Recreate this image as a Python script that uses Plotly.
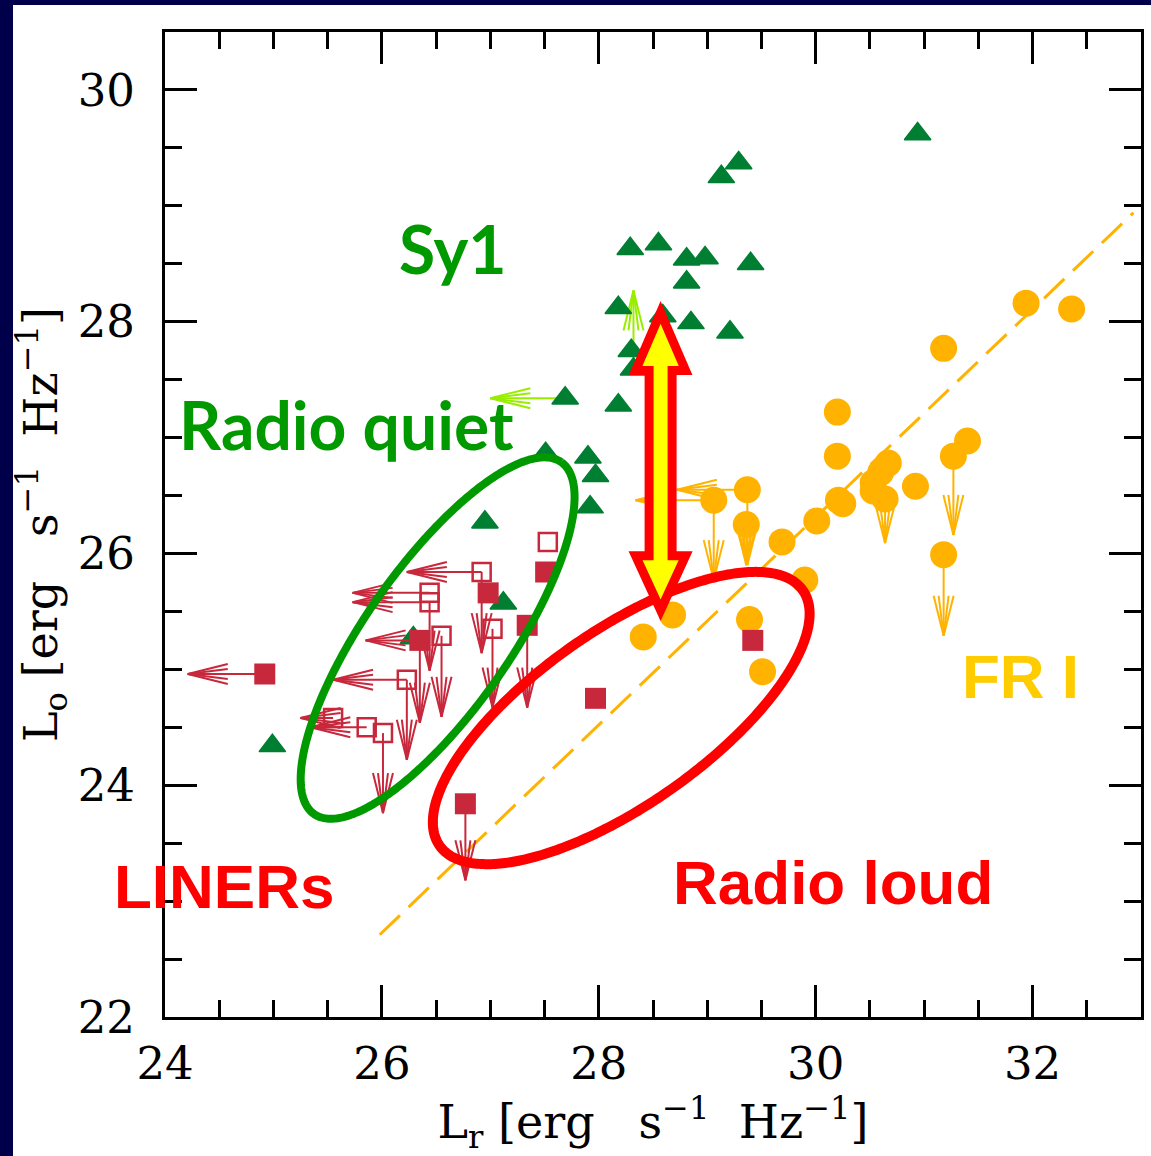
import numpy as np
import plotly.graph_objects as go

# ---------------- data ----------------
# FR I radio galaxies (log L_r, log L_o); *_lim = arrow end for limits
fri_lr = [31.94, 32.36, 31.18, 30.20, 30.20, 31.40, 31.27, 30.67, 30.60, 30.53, 30.53, 30.64, 30.92,
          30.21, 30.25, 30.01, 29.69, 29.37, 29.36, 29.06, 31.18, 29.90, 28.68, 28.41, 29.39, 29.51]
fri_lo = [28.16, 28.11, 27.77, 27.22, 26.84, 26.97, 26.84, 26.78, 26.70, 26.61, 26.54, 26.47, 26.58,
          26.46, 26.43, 26.28, 26.10, 26.55, 26.25, 26.46, 25.99, 25.77, 25.47, 25.28, 25.43, 24.98]
fri_lr_lim = [None] * 17 + [28.72, None, 28.34] + [None] * 6
fri_lo_lim = [None] * 6 + [26.16] + [None] * 4 + [26.09] + [None] * 5 + [25.90, 25.90, 25.77, 25.29] + [None] * 5

# FR I correlation (dashed line end points)
fit_lr = [25.98, 32.93]
fit_lo = [22.71, 28.94]

# Seyfert 1 galaxies
sy1_lr = [30.94, 29.29, 29.13, 28.29, 28.55, 28.81, 28.98, 29.40, 28.81, 28.18, 28.59, 28.85, 29.21,
          28.30, 28.32, 28.18, 27.69, 27.51, 27.90, 27.97, 27.92, 26.95, 27.12, 24.99, 26.29]
sy1_lo = [29.62, 29.37, 29.25, 28.63, 28.67, 28.54, 28.55, 28.50, 28.34, 28.12, 28.05, 27.99, 27.91,
          27.75, 27.59, 27.28, 27.34, 26.86, 26.83, 26.67, 26.40, 26.27, 25.57, 24.34, 25.27]
sy1_lr_lim = [None] * 16 + [27.00] + [None] * 8
sy1_lo_lim = [None] * 14 + [28.27] + [None] * 10

# LINERs, filled squares
lin_f_lr = [24.92, 26.77, 26.35, 26.98, 27.34, 27.51, 27.97, 29.42]
lin_f_lo = [24.96, 23.84, 25.25, 25.66, 25.38, 25.84, 24.75, 25.25]
lin_f_lr_lim = [24.21, None, 25.85, None, None, None, None, None]
lin_f_lo_lim = [None, 23.18, 24.54, None, 24.67, None, None, None]

# LINERs, open squares
lin_o_lr = [27.53, 26.92, 26.44, 26.44, 26.55, 27.02, 26.23, 25.55, 25.86, 26.01]
lin_o_lo = [26.10, 25.84, 25.66, 25.58, 25.29, 25.35, 24.91, 24.58, 24.50, 24.45]
lin_o_lr_lim = [None, 26.23, 25.73, 25.73, None, None, 25.55, 25.25, 25.34, None]
lin_o_lo_lim = [None, 25.14, None, 24.99, 24.59, 24.67, 24.22, None, None, 23.76]

# ---------------- layout geometry ----------------
W, H = 1151, 1156
M_L, M_R, M_T, M_B = 165, 10, 32, 139
X_RANGE = [24, 33]
Y_RANGE = [22, 30.5]
PLOT_W = W - M_L - M_R
PLOT_H = H - M_T - M_B
PX_X = PLOT_W / (X_RANGE[1] - X_RANGE[0])   # pixels per unit of L_r
PX_Y = PLOT_H / (Y_RANGE[1] - Y_RANGE[0])   # pixels per unit of L_o

C_FRI = "#FFB300"
C_SY1 = "#007F33"
C_SY1_LIM = "#99EE00"
C_LIN = "#C8283C"
C_GREEN = "#009A00"
C_RED = "#FF0000"


def limit_arrows(xs, ys, xlims, ylims, head=40, spreads=(10, 5)):
    """Shaft + double-V arrow head for every limit, as one broken polyline."""
    ax, ay = [], []
    for x, y, xl, yl in zip(xs, ys, xlims, ylims):
        if xl is not None:
            s = 1 if xl > x else -1
            ax += [x, xl, None]
            ay += [y, y, None]
            for h in spreads:
                bx = xl - s * head / PX_X
                ax += [bx, xl, bx, None]
                ay += [y + h / PX_Y, y, y - h / PX_Y, None]
        if yl is not None:
            s = 1 if yl > y else -1
            ax += [x, x, None]
            ay += [y, yl, None]
            for h in spreads:
                by = yl - s * head / PX_Y
                ax += [x - h / PX_X, x, x + h / PX_X, None]
                ay += [by, yl, by, None]
    return ax, ay


def ellipse(cx, cy, a_px, b_px, angle_deg, n=360):
    t = np.linspace(0, 2 * np.pi, n)
    th = np.radians(angle_deg)
    dx = a_px * np.cos(t) * np.cos(th) - b_px * np.sin(t) * np.sin(th)
    dy = a_px * np.cos(t) * np.sin(th) + b_px * np.sin(t) * np.cos(th)
    return cx + dx / PX_X, cy + dy / PX_Y


fig = go.Figure()

# FR I correlation
fig.add_trace(go.Scatter(x=fit_lr, y=fit_lo, mode="lines",
                         line=dict(color=C_FRI, width=3, dash="28px,12px"), hoverinfo="skip"))

# FR I limits and points
ax, ay = limit_arrows(fri_lr, fri_lo, fri_lr_lim, fri_lo_lim)
fig.add_trace(go.Scatter(x=ax, y=ay, mode="lines", line=dict(color=C_FRI, width=2, simplify=False),
                         hoverinfo="skip"))
fig.add_trace(go.Scatter(x=fri_lr, y=fri_lo, mode="markers", name="FR I",
                         marker=dict(symbol="circle", size=27, color=C_FRI, line=dict(width=0))))

# Seyfert 1 limits and points
ax, ay = limit_arrows(sy1_lr, sy1_lo, sy1_lr_lim, sy1_lo_lim)
fig.add_trace(go.Scatter(x=ax, y=ay, mode="lines", line=dict(color=C_SY1_LIM, width=2, simplify=False),
                         hoverinfo="skip"))
fig.add_trace(go.Scatter(x=sy1_lr, y=sy1_lo, mode="markers", name="Sy1",
                         marker=dict(symbol="triangle-up", size=23, color=C_SY1,
                                     line=dict(width=1.5, color=C_SY1))))

# LINER limits and points
ax, ay = limit_arrows(lin_f_lr + lin_o_lr, lin_f_lo + lin_o_lo,
                      lin_f_lr_lim + lin_o_lr_lim, lin_f_lo_lim + lin_o_lo_lim)
fig.add_trace(go.Scatter(x=ax, y=ay, mode="lines", line=dict(color=C_LIN, width=2, simplify=False),
                         hoverinfo="skip"))
fig.add_trace(go.Scatter(x=lin_o_lr, y=lin_o_lo, mode="markers", name="LINERs",
                         marker=dict(symbol="square-open", size=18, color=C_LIN,
                                     line=dict(width=2.5, color=C_LIN))))
fig.add_trace(go.Scatter(x=lin_f_lr, y=lin_f_lo, mode="markers", name="LINERs",
                         marker=dict(symbol="square", size=21, color=C_LIN, line=dict(width=0))))

# radio-quiet and radio-loud LINER regions
ex, ey = ellipse(26.514, 25.27, 215, 72, 54.9)
fig.add_trace(go.Scatter(x=ex, y=ey, mode="lines", line=dict(color=C_GREEN, width=8, simplify=False),
                         hoverinfo="skip"))
ex, ey = ellipse(28.207, 24.58, 222, 87, 35.1)
fig.add_trace(go.Scatter(x=ex, y=ey, mode="lines", line=dict(color=C_RED, width=10, simplify=False),
                         hoverinfo="skip"))

# big double-headed arrow between the two LINER classes
AR_X = 28.57
AR_TOP, AR_TOP_BASE = 28.08, 27.58
AR_BOT, AR_BOT_BASE = 25.51, 25.98
sh = 11.5 / PX_X
hd = 25 / PX_X
pts = [(AR_X, AR_TOP), (AR_X + hd, AR_TOP_BASE), (AR_X + sh, AR_TOP_BASE),
       (AR_X + sh, AR_BOT_BASE), (AR_X + hd, AR_BOT_BASE), (AR_X, AR_BOT),
       (AR_X - hd, AR_BOT_BASE), (AR_X - sh, AR_BOT_BASE), (AR_X - sh, AR_TOP_BASE),
       (AR_X - hd, AR_TOP_BASE)]
path = "M " + " L ".join(f"{px},{py}" for px, py in pts) + " Z"

shapes = [
    dict(type="path", path=path, xref="x", yref="y", fillcolor="#FFFF00",
         line=dict(color=C_RED, width=9), layer="above"),
    # dark slide frame on the left and top
    dict(type="rect", xref="paper", yref="paper", x0=-M_L / PLOT_W, x1=(13 - M_L) / PLOT_W,
         y0=-M_B / PLOT_H, y1=1 + M_T / PLOT_H, fillcolor="#00004A", line=dict(width=0), layer="below"),
    dict(type="rect", xref="paper", yref="paper", x0=-M_L / PLOT_W, x1=1 + M_R / PLOT_W,
         y0=1 + (M_T - 5) / PLOT_H, y1=1 + M_T / PLOT_H, fillcolor="#00004A", line=dict(width=0),
         layer="below"),
]

LAB_GREEN = dict(family="Lato", size=66, color=C_GREEN, weight="bold")
LAB_SANS = dict(family="Liberation Sans", size=62, weight="bold")
annotations = [
    dict(text="Sy1", x=26.66, y=28.634, xanchor="center", yanchor="middle", font=LAB_GREEN),
    dict(text="Radio quiet", x=24.11, y=27.117, xanchor="left", yanchor="middle", font=LAB_GREEN),
    dict(text="LINERs", x=25.58, y=23.13, xanchor="right", yanchor="middle",
         font={**LAB_SANS, "color": C_RED}),
    dict(text="Radio loud", x=30.16, y=23.16, xanchor="center", yanchor="middle",
         font={**LAB_SANS, "color": C_RED}),
    dict(text="FR I", x=31.89, y=24.935, xanchor="center", yanchor="middle",
         font={**LAB_SANS, "color": "#FFCC00"}),
]
for a in annotations:
    a.update(xref="x", yref="y", showarrow=False)

NB = "\u00a0"
axis_common = dict(
    showline=True, linewidth=3, linecolor="black", mirror="ticks",
    ticks="inside", ticklen=32, tickwidth=3, tickcolor="black",
    showgrid=False, zeroline=False,
    tickfont=dict(family="DejaVu Serif", size=45, color="black"),
    minor=dict(dtick=0.5, ticks="inside", ticklen=17, tickwidth=3, tickcolor="black", showgrid=False),
)

fig.update_layout(
    width=W, height=H,
    margin=dict(l=M_L, r=M_R, t=M_T, b=M_B, autoexpand=False),
    paper_bgcolor="white", plot_bgcolor="white",
    showlegend=False,
    shapes=shapes, annotations=annotations,
    xaxis=dict(range=X_RANGE, tick0=24, dtick=2, ticklabelstandoff=5,
               title=dict(text=f"L<sub>r</sub> [erg{NB}{NB}{NB}s<sup>−1</sup>{NB}{NB}Hz<sup>−1</sup>]",
                          font=dict(family="DejaVu Serif", size=46, color="black"), standoff=30),
               **axis_common),
    yaxis=dict(range=Y_RANGE, tick0=22, dtick=2, ticklabelstandoff=18,
               title=dict(text=f"L<sub>o</sub> [erg{NB}{NB}{NB}s<sup>−1</sup>{NB}{NB}Hz<sup>−1</sup>]",
                          font=dict(family="DejaVu Serif", size=46, color="black"), standoff=6),
               **axis_common),
)

fig.write_html("out.html")
